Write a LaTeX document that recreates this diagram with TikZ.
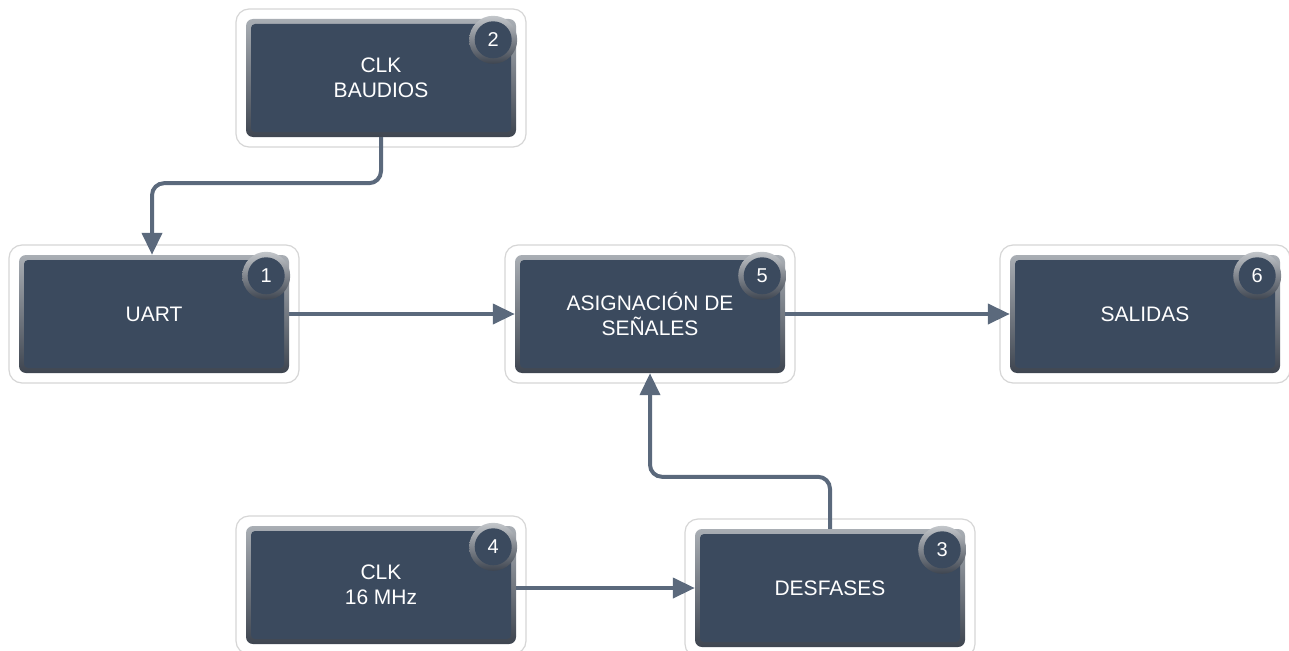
\documentclass[tikz,border=0pt]{standalone}
\usepackage{fontspec}
\setmainfont{Liberation Sans}
\usetikzlibrary{arrows.meta,calc}
\definecolor{boxfill}{HTML}{3B4A5E}
\definecolor{linkcol}{HTML}{5B697C}
\definecolor{framecol}{HTML}{D6D6D6}
\definecolor{bevtop}{HTML}{A9AEB4}
\definecolor{bevbot}{HTML}{3E4550}
\tikzset{
  blockbox/.style={minimum width=270pt, minimum height=118pt, align=center, text=white,
    font=\fontsize{21}{25}\selectfont, inner sep=0pt},
  frame/.style={draw=framecol, line width=1.2pt, fill=white, rounded corners=13pt},
  bevelshade/.style={top color=bevtop, bottom color=bevbot, rounded corners=7pt},
  face/.style={fill=boxfill, rounded corners=4pt},
  link/.style={draw=linkcol, line width=4pt, rounded corners=12pt,
    -{Triangle[length=22pt,width=20pt]}},
  ringshade/.style={top color=bevtop!70!white, bottom color=bevbot},
  badge/.style={circle, minimum size=36pt, inner sep=0pt, text=white,
    font=\fontsize{20}{20}\selectfont}
}
% block: #1 name, #2 x, #3 y (centre), #4 text, #5 badge number
\newcommand{\blockat}[5]{%
  \draw[frame] (#2-145,#3-69) rectangle (#2+145,#3+69);
  \shade[bevelshade] (#2-135,#3-59) rectangle (#2+135,#3+59);
  \fill[face] (#2-130,#3-54) rectangle (#2+130,#3+54);
  \node[blockbox] (#1) at (#2,#3) {#4};
  \shade[ringshade] ($(#1.north east)+(-23,21)$) circle[radius=24pt];
  \fill[boxfill] ($(#1.north east)+(-23,21)$) circle[radius=18.5pt];
  \node[badge] (n#5) at ($(#1.north east)+(-23,21)$) {#5};
}
\begin{document}
\begin{tikzpicture}[x=1pt,y=-1pt]
\useasboundingbox (0,0) rectangle (1289,650);
\blockat{b2}{381}{78}{CLK\\BAUDIOS}{2}
\blockat{b1}{154}{314}{UART}{1}
\blockat{b5}{650}{314}{ASIGNACIÓN DE\\SEÑALES}{5}
\blockat{b6}{1145}{314}{SALIDAS}{6}
\blockat{b4}{381}{585}{CLK\\16 MHz}{4}
\blockat{b3}{830}{588}{DESFASES}{3}
% signal flow
\draw[link] (b2.south) -- ++(0,46) -| ($(b1.north)+(-2,0)$);
\draw[link] (b1.east) -- (b5.west);
\draw[link] (b5.east) -- (b6.west);
\draw[link] (b4.east |- 0,588) -- (b3.west);
\draw[link] (b3.north) -- ++(0,-52) -| (b5.south);
\end{tikzpicture}
\end{document}
